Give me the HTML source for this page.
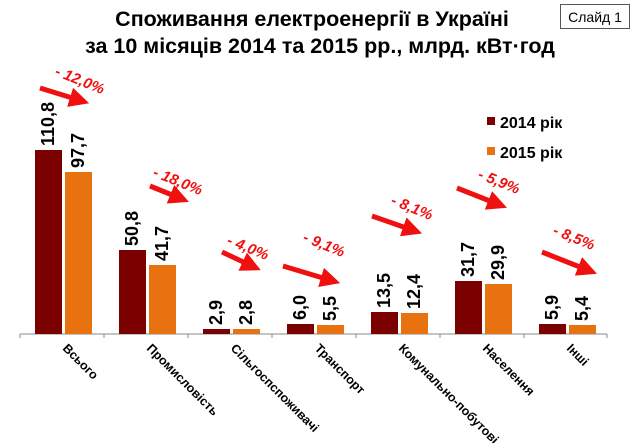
<!DOCTYPE html>
<html><head><meta charset="utf-8"><style>
body{margin:0;background:#fff}
svg{display:block}
text{font-family:"Liberation Sans",Arial,sans-serif}
</style></head><body>
<svg width="640" height="443" viewBox="0 0 640 443">
<defs><marker id="ah" markerWidth="4" markerHeight="4" refX="2.5" refY="2" orient="auto" markerUnits="strokeWidth"><path d="M0,0 L4,2 L0,4 z" fill="#f01010"/></marker></defs>
<text x="312" y="26" font-size="21.5" font-weight="bold" text-anchor="middle">Споживання електроенергії в Україні</text>
<text x="320" y="53" font-size="21.5" font-weight="bold" text-anchor="middle">за 10 місяців 2014 та 2015 рр., млрд. кВт·год</text>
<rect x="560.5" y="4.5" width="69" height="24" fill="#fff" stroke="#555"/>
<text x="595" y="22" font-size="14" text-anchor="middle">Слайд 1</text>
<rect x="487" y="117" width="8" height="8" fill="#7b0000"/>
<text x="500" y="128" font-size="16" font-weight="bold">2014 рік</text>
<rect x="487" y="147" width="8" height="8" fill="#e8720f"/>
<text x="500" y="158" font-size="16" font-weight="bold">2015 рік</text>
<line x1="20" y1="334" x2="607" y2="334" stroke="#888" stroke-width="1"/>
<g stroke="#888">
<line x1="20" y1="334" x2="20" y2="338"/><line x1="104" y1="334" x2="104" y2="338"/><line x1="188" y1="334" x2="188" y2="338"/><line x1="272" y1="334" x2="272" y2="338"/><line x1="356" y1="334" x2="356" y2="338"/><line x1="440" y1="334" x2="440" y2="338"/><line x1="524" y1="334" x2="524" y2="338"/><line x1="607" y1="334" x2="607" y2="338"/>
</g>
<g fill="#7b0000">
<rect x="35" y="150" width="27" height="184"/>
<rect x="119" y="250" width="27" height="84"/>
<rect x="203" y="329" width="27" height="5"/>
<rect x="287" y="324" width="27" height="10"/>
<rect x="371" y="312" width="27" height="22"/>
<rect x="455" y="281" width="27" height="53"/>
<rect x="539" y="324" width="27" height="10"/>
</g>
<g fill="#e8720f">
<rect x="65" y="172" width="27" height="162"/>
<rect x="149" y="265" width="27" height="69"/>
<rect x="233" y="329" width="27" height="5"/>
<rect x="317" y="325" width="27" height="9"/>
<rect x="401" y="313" width="27" height="21"/>
<rect x="485" y="284" width="27" height="50"/>
<rect x="569" y="325" width="27" height="9"/>
</g>
<g font-size="18" font-weight="bold">
<text transform="translate(54,146) rotate(-90)">110,8</text>
<text transform="translate(84,168) rotate(-90)">97,7</text>
<text transform="translate(138,246) rotate(-90)">50,8</text>
<text transform="translate(168,261) rotate(-90)">41,7</text>
<text transform="translate(222,325) rotate(-90)">2,9</text>
<text transform="translate(252,325) rotate(-90)">2,8</text>
<text transform="translate(306,320) rotate(-90)">6,0</text>
<text transform="translate(336,321) rotate(-90)">5,5</text>
<text transform="translate(390,308) rotate(-90)">13,5</text>
<text transform="translate(420,309) rotate(-90)">12,4</text>
<text transform="translate(474,277) rotate(-90)">31,7</text>
<text transform="translate(504,280) rotate(-90)">29,9</text>
<text transform="translate(558,320) rotate(-90)">5,9</text>
<text transform="translate(588,321) rotate(-90)">5,4</text>
</g>
<g stroke="#f01010" stroke-width="5" marker-end="url(#ah)">
<line x1="40" y1="88" x2="82" y2="101"/>
<line x1="150" y1="186" x2="182" y2="199"/>
<line x1="222" y1="252" x2="254" y2="267"/>
<line x1="283" y1="266" x2="333" y2="281"/>
<line x1="372" y1="216" x2="415" y2="231"/>
<line x1="457" y1="188" x2="500" y2="205"/>
<line x1="542" y1="252" x2="590" y2="271"/>
</g>
<g fill="#f01010" font-size="15" font-weight="bold" font-style="italic">
<text transform="translate(54,75) rotate(22)">- 12,0%</text>
<text transform="translate(152,176) rotate(22)">- 18,0%</text>
<text transform="translate(226,244) rotate(22)">- 4,0%</text>
<text transform="translate(302,241) rotate(22)">- 9,1%</text>
<text transform="translate(390,204) rotate(22)">- 8,1%</text>
<text transform="translate(477,178) rotate(22)">- 5,9%</text>
<text transform="translate(552,234) rotate(22)">- 8,5%</text>
</g>
<g font-size="12.5" font-weight="bold">
<text transform="translate(62,349) rotate(45)">Всього</text>
<text transform="translate(146,349) rotate(45)">Промисловість</text>
<text transform="translate(230,349) rotate(45)">Сільгоспспоживачі</text>
<text transform="translate(314,349) rotate(45)">Транспорт</text>
<text transform="translate(398,349) rotate(45)">Комунально-побутові</text>
<text transform="translate(482,349) rotate(45)">Населення</text>
<text transform="translate(566,349) rotate(45)">Інші</text>
</g>
</svg>
</body></html>
